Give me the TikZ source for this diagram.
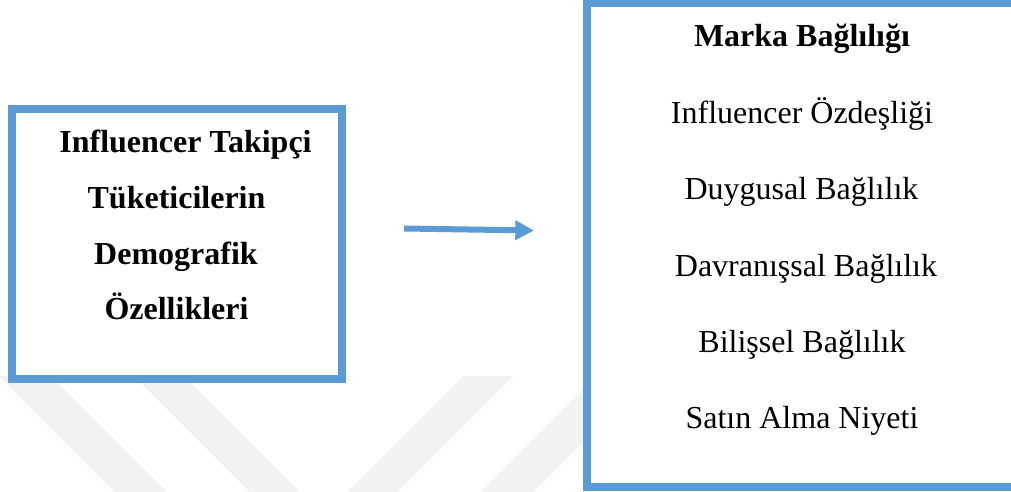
\documentclass[tikz,border=0pt]{standalone}
\usepackage{fontspec}
\setmainfont{Liberation Serif}
\usetikzlibrary{arrows.meta}
\definecolor{boxblue}{HTML}{5B9BD5}
\definecolor{wmgray}{RGB}{242,242,242}
\tikzset{
  framebox/.style={draw=boxblue, line width=6pt, fill=white, inner sep=0pt, rectangle},
  lefttext/.style={anchor=base, font=\fontsize{24}{28}\selectfont\bfseries, inner sep=0pt},
  titletext/.style={anchor=base, font=\fontsize{24}{28}\selectfont\bfseries, inner sep=0pt},
  itemtext/.style={anchor=base, font=\fontsize{24}{28}\selectfont, inner sep=0pt},
  flowarrow/.style={draw=boxblue, line width=4.5pt, -{Triangle[length=14pt,width=14pt]}},
  band/.style={fill=wmgray, draw=none}
}
\begin{document}
\begin{tikzpicture}[x=0.75pt,y=-0.75pt]
\useasboundingbox (0,0) rectangle (1011,492);
\clip (0,0) rectangle (1011,492);
\fill[white] (0,0) rectangle (1011,492);
% watermark bands
\fill[band] (-1,376) -- (51,376) -- (167,492) -- (115,492) -- cycle;
\fill[band] (134,376) -- (184,376) -- (300,492) -- (250,492) -- cycle;
\fill[band] (463,376) -- (513,376) -- (397,492) -- (347,492) -- cycle;
\fill[band] (596,376) -- (649,376) -- (533,492) -- (480,492) -- cycle;
% boxes
\node[framebox, minimum width=247.5pt, minimum height=202.5pt] (lbox) at (177,244) {};
\node[framebox, minimum width=330pt, minimum height=363pt] (rbox) at (807,245) {};
% left texts
\node[lefttext] (l1) at (185.5,152) {Influencer Takipçi};
\node[lefttext] (l2) at (176.5,208) {Tüketicilerin};
\node[lefttext] (l3) at (176,264) {Demografik};
\node[lefttext] (l4) at (176.5,319) {Özellikleri};
% right texts
\node[titletext] (title) at (802,47) {Marka Bağlılığı};
\node[itemtext] (r1) at (802,123) {Influencer Özdeşliği};
\node[itemtext] (r2) at (801.5,199) {Duygusal Bağlılık};
\node[itemtext] (r3) at (806,276) {Davranışsal Bağlılık};
\node[itemtext] (r4) at (802,352) {Bilişsel Bağlılık};
\node[itemtext] (r5) at (802,428) {Satın Alma Niyeti};
% arrow
\coordinate (a0) at (404,228.5);
\coordinate (a1) at (534,230.5);
\draw[flowarrow] (a0) -- (a1);
\end{tikzpicture}
\end{document}
